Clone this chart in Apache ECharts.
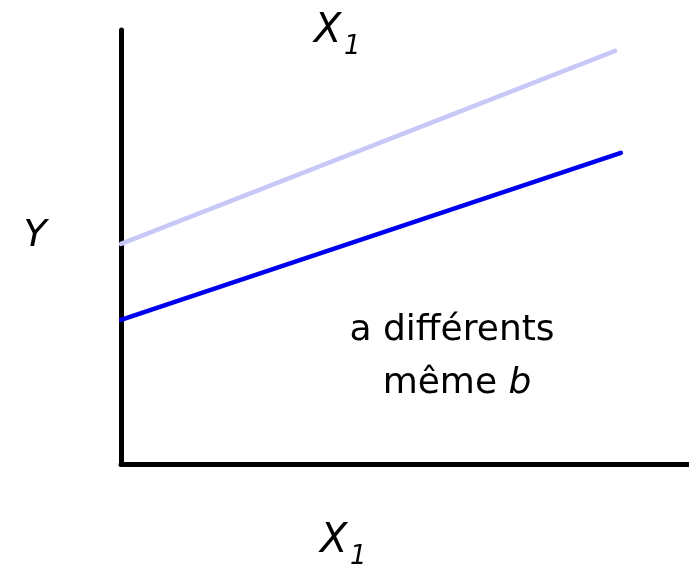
<!DOCTYPE html>
<html>
<head>
<meta charset="utf-8">
<script src="https://cdn.jsdelivr.net/npm/echarts@6/dist/echarts.min.js"></script>
<style>
  html, body { margin: 0; padding: 0; background: #fff; }
  #chart { width: 689px; height: 565px; }
</style>
</head>
<body>
<div id="chart"></div>
<script>
// two regression lines: different intercept a
const xRange = [0, 100];
const yRange = [0, 100];
const lightLine = [[0, 50.7], [87, 95.2]];
const darkLine = [[0, 33.2], [88, 71.7]];
const axisTitleX = "X";
const axisTitleY = "Y";
const subscript = "1";
const noteLines = ["a différents", "même {i|b}"];

const FONT = "DejaVu Sans";
const chart = echarts.init(document.getElementById("chart"), null, { renderer: "canvas" });

const axisCommon = {
  type: "value",
  axisTick: { show: false },
  axisLabel: { show: false },
  splitLine: { show: false },
  axisLine: { lineStyle: { color: "#000", width: 5, cap: "round" } },
};

// "X" with a lowered "1"
const labelX = (x, y) => ({
  type: "group",
  x: x,
  y: y,
  children: [
    {
      type: "text",
      style: {
        text: axisTitleX,
        x: 0,
        y: 0,
        fontFamily: FONT,
        fontSize: 40,
        fontStyle: "italic",
        fill: "#000",
        align: "left",
        verticalAlign: "middle",
      },
    },
    {
      type: "text",
      style: {
        text: subscript,
        x: 30,
        y: 15,
        fontFamily: FONT,
        fontSize: 26,
        fontStyle: "italic",
        fill: "#000",
        align: "left",
        verticalAlign: "middle",
      },
    },
  ],
});

chart.setOption({
  backgroundColor: "#fff",
  animation: false,
  grid: { left: 121, right: 0, top: 30, bottom: 101 },
  xAxis: { ...axisCommon, min: xRange[0], max: xRange[1] },
  yAxis: { ...axisCommon, min: yRange[0], max: yRange[1] },
  series: [
    {
      type: "line",
      data: lightLine,
      showSymbol: false,
      lineStyle: { color: "#c8c8f8", width: 4.5, cap: "round" },
    },
    {
      type: "line",
      data: darkLine,
      showSymbol: false,
      lineStyle: { color: "#0000f0", width: 4.5, cap: "round" },
    },
  ],
  graphic: [
    labelX(314, 32),
    labelX(320, 542),
    {
      type: "text",
      x: 35,
      y: 236,
      style: {
        text: axisTitleY,
        fontFamily: FONT,
        fontSize: 38,
        fontStyle: "italic",
        fill: "#000",
        align: "center",
        verticalAlign: "middle",
      },
    },
    {
      type: "text",
      x: 452,
      y: 331,
      style: {
        text: noteLines[0],
        fontFamily: FONT,
        fontSize: 36,
        fill: "#000",
        align: "center",
        verticalAlign: "middle",
      },
    },
    {
      type: "text",
      x: 457,
      y: 384,
      style: {
        text: noteLines[1],
        fontFamily: FONT,
        fontSize: 36,
        fill: "#000",
        align: "center",
        verticalAlign: "middle",
        rich: {
          i: { fontFamily: FONT, fontSize: 36, fontStyle: "italic", color: "#000" },
        },
      },
    },
  ],
});
</script>
</body>
</html>
